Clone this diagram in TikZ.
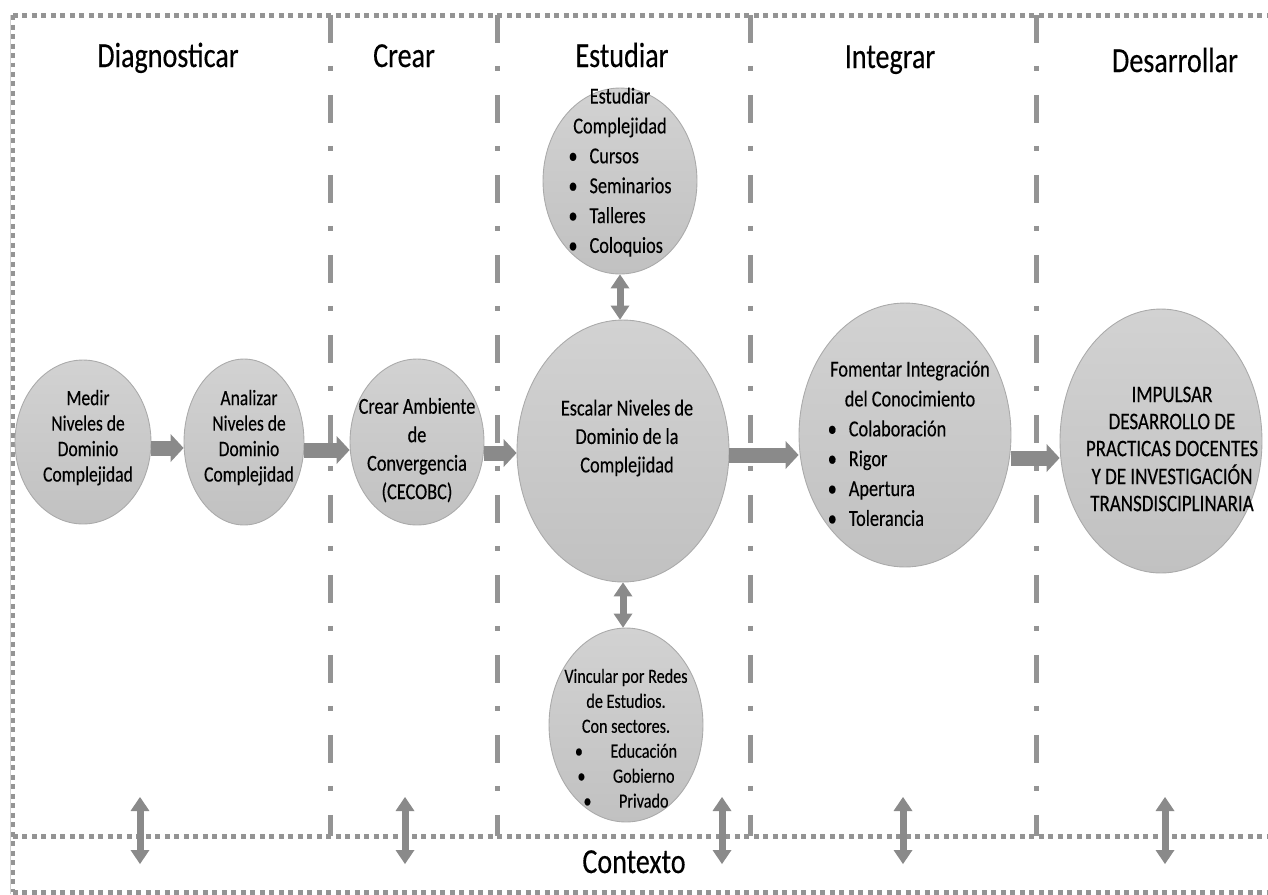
\documentclass[tikz,border=0pt]{standalone}
\usepackage{fontspec}
\setmainfont{Carlito}[FakeStretch=0.8,FakeBold=0.3]
\usepackage{tikz}
\usetikzlibrary{arrows.meta,shapes.geometric}

\definecolor{elltop}{RGB}{210,210,210}
\definecolor{ellbot}{RGB}{193,193,193}
\definecolor{ellline}{RGB}{170,170,170}
\definecolor{sepgray}{RGB}{148,148,148}
\definecolor{arrowgray}{RGB}{138,138,138}

\newcommand{\elltext}[3]{\smash{\makebox[0pt]{\hspace*{#1}\raisebox{#2}{\begin{tabular}{@{}c@{}}#3\end{tabular}}}}}
\newcommand{\blt}{\textbullet\hspace{0.24cm}}

\tikzset{
  stage/.style={ellipse, draw=ellline, line width=0.5pt, top color=elltop, bottom color=ellbot, inner sep=0pt},
  phase/.style={font=\fontsize{20}{24}\selectfont, anchor=base, inner sep=0pt},
  blockarrow/.style={color=arrowgray, line width=0.3cm, -{Triangle[length=0.26cm,width=0.56cm,line width=0pt]}},
  dblarrow/.style={color=arrowgray, line width=0.14cm, {Triangle[length=0.28cm,width=0.38cm,line width=0pt]}-{Triangle[length=0.28cm,width=0.38cm,line width=0pt]}},
  separator/.style={sepgray, line width=0.1cm, dash pattern=on 0.56cm off 0.46cm on 0.1cm off 0.48cm},
  border/.style={sepgray, line width=0.1cm, dash pattern=on 0.1cm off 0.09cm}
}

\begin{document}
\begin{tikzpicture}[x=0.02cm,y=-0.02cm]
   \useasboundingbox (0,0) rectangle (1268,894);
   \draw[gray!35, line width=0.4pt] (10,15) -- (10,894);
   \draw[border] (13,15) -- (1268,15);
   \draw[border] (13,836) -- (1268,836);
   \draw[border] (13,892) -- (1268,892);
   \draw[border] (13,15) -- (13,892);
   \foreach \x in {330,497,750,1036} \draw[separator] (\x,15) -- (\x,836);

   \draw (168,67) node[phase] (diagnosticar) {Diagnosticar};
   \draw (404,67) node[phase] (crearhdr) {Crear};
   \draw (622,67) node[phase] (estudiarhdr) {Estudiar};
   \draw (890,68) node[phase] (integrar) {Integrar};
   \draw (1175,72) node[phase] (desarrollar) {Desarrollar};
   \draw (634,873) node[phase] (contexto) {Contexto};

   \draw (83,442) node[stage, minimum width=2.72cm, minimum height=3.28cm, font=\fontsize{12.5}{14.5}\selectfont] (medir)
      {\elltext{0.2cm}{-0.03cm}{Medir\\Niveles de\\Dominio\\Complejidad}};
   \draw (244,442) node[stage, minimum width=2.4cm, minimum height=3.32cm, font=\fontsize{12.5}{14.5}\selectfont] (analizar)
      {\elltext{0.2cm}{-0.03cm}{Analizar\\Niveles de\\Dominio\\Complejidad}};
   \draw (417,442) node[stage, minimum width=2.68cm, minimum height=3.32cm, font=\fontsize{13}{16.2}\selectfont] (crear)
      {\elltext{0cm}{-0.28cm}{Crear Ambiente\\de\\Convergencia\\(CECOBC)}};
   \draw (623,451) node[stage, minimum width=4.24cm, minimum height=5.24cm, font=\fontsize{13}{16.2}\selectfont] (escalar)
      {\elltext{0.16cm}{0.15cm}{Escalar Niveles de\\Dominio de la\\Complejidad}};
   \draw (620,181) node[stage, minimum width=3.08cm, minimum height=3.72cm, font=\fontsize{13}{17}\selectfont] (estudiar)
      {\elltext{0cm}{0.07cm}{Estudiar\\Complejidad\\\begin{tabular}{@{}l@{}}\blt Cursos\\\blt Seminarios\\\blt Talleres\\\blt Coloquios\end{tabular}}};
   \draw (626,725) node[stage, minimum width=3.08cm, minimum height=3.88cm, font=\fontsize{11.5}{14.2}\selectfont] (vincular)
      {\elltext{0cm}{-0.41cm}{Vincular por Redes\\de Estudios.\\Con sectores.\\\textbullet\hspace{0.55cm}Educación\\\textbullet\hspace{0.55cm}Gobierno\\\textbullet\hspace{0.55cm}Privado}};
   \draw (905,435) node[stage, minimum width=4.24cm, minimum height=5.28cm, font=\fontsize{13}{17}\selectfont] (fomentar)
      {\elltext{0.2cm}{-0.31cm}{Fomentar Integración\\del Conocimiento\\\begin{tabular}{@{}l@{}}\blt Colaboración\\\blt Rigor\\\blt Apertura\\\blt Tolerancia\end{tabular}\hspace*{0.92cm}}};
   \draw (1161,441) node[stage, minimum width=4.04cm, minimum height=5.28cm, font=\fontsize{13.5}{15.4}\selectfont] (impulsar)
      {\elltext{0.44cm}{-0.33cm}{IMPULSAR\\DESARROLLO DE\\PRACTICAS DOCENTES\\Y DE INVESTIGACIÓN\\TRANSDISCIPLINARIA}};

   \path[blockarrow] (medir.east |- 0,448) edge (analizar.west |- 0,448);
   \path[blockarrow] (analizar.east |- 0,450) edge (crear.west |- 0,450);
   \path[blockarrow] (crear.east |- 0,453) edge (escalar.west |- 0,453);
   \path[blockarrow] (escalar.east |- 0,455) edge (fomentar.west |- 0,455);
   \path[blockarrow] (fomentar.east |- 0,458) edge (impulsar.west |- 0,458);
   \path[dblarrow] (estudiar.south) edge (estudiar.south |- escalar.north);
   \path[dblarrow] (escalar.south) edge (escalar.south |- vincular.north);

   \foreach \x [count=\i] in {140,405,722,903,1165} {
      \coordinate (ctxtop\i) at (\x,797);
      \coordinate (ctxbot\i) at (\x,864);
      \path[dblarrow] (ctxtop\i) edge (ctxbot\i);
   }
\end{tikzpicture}
\end{document}
